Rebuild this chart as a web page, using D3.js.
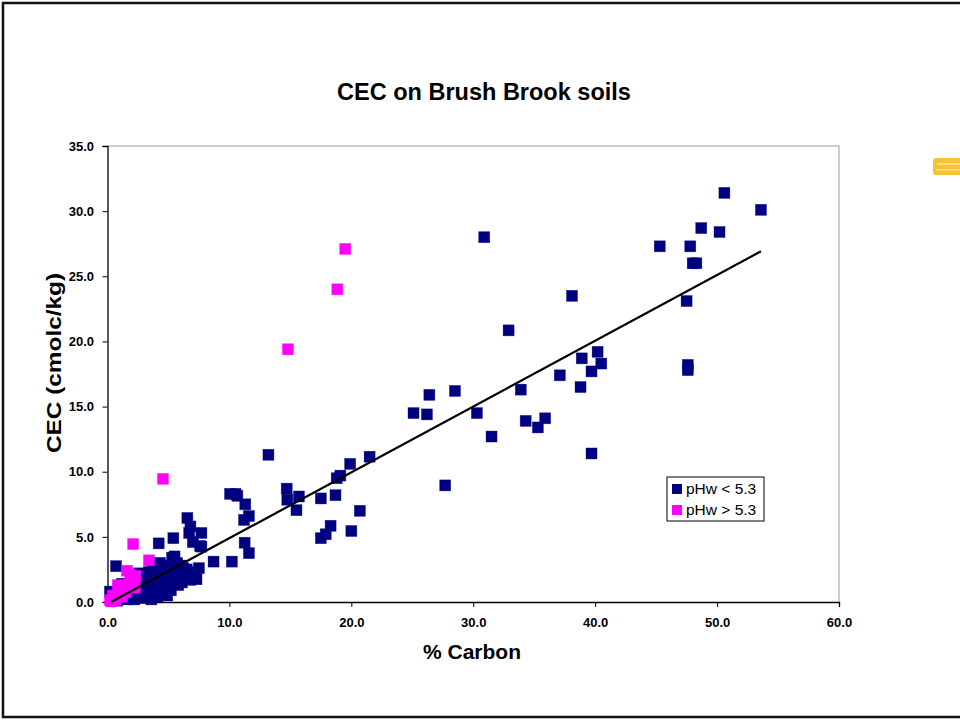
<!DOCTYPE html>
<html lang="en">

<head>
    <meta charset="UTF-8">
    <title>CEC on Brush Brook soils</title>
    <style>
        body {
            margin: 0;
            overflow: hidden;
            background: #fff;
        }
        text {
            font-family: "Liberation Sans", Arial, sans-serif;
        }
    </style>
</head>

<body>
    <div id="container"></div>

    <script type="text/javascript" src="https://d3js.org/d3.v7.min.js"></script>
    <script type="text/javascript">
        // pHw < 5.3 (navy)
        var lowX = [50.6, 53.6, 48.7, 50.2, 45.3, 47.8, 48.0, 48.3, 30.9, 38.1, 47.5, 32.9, 40.2, 38.9, 40.5, 39.7,
            37.1, 47.6, 47.6, 38.8, 33.9, 28.5, 26.4, 25.1, 26.2, 30.3, 34.3, 35.9, 35.3, 31.5, 39.7, 27.7,
            13.2, 21.5, 19.9, 19.1, 18.8, 18.7, 17.5, 20.7, 18.3, 17.9, 17.5, 20.0, 14.7, 14.75, 15.7, 15.5,
            10.5, 10.05, 10.65, 11.3, 11.6, 11.2, 11.25, 11.6, 7.7, 7.7, 10.2, 8.7, 6.55, 6.8, 6.7, 7.0,
            5.4, 4.2, 7.6, 5.5, 0.7, 7.5, 7.3, 6.8,
            0.2, 0.4, 0.6, 0.9, 1.1, 1.2, 1.5, 1.8, 2.0, 2.3, 2.5, 2.8, 3.0, 3.1, 3.3, 3.4, 3.5, 3.7, 3.8,
            4.0, 4.1, 4.2, 4.4, 4.5, 4.6, 4.8, 5.0, 5.1, 5.2, 5.4, 5.6, 5.7, 5.9, 6.1, 6.2, 6.4, 6.6, 6.8,
            7.0, 7.2, 3.0, 2.6, 4.3, 5.3, 6.0, 1.6, 2.2, 0.8, 3.6, 4.9, 6.5, 3.7, 2.9, 4.0, 5.8];
        var lowY = [31.4, 30.1, 28.7, 28.4, 27.3, 27.3, 26.0, 26.0, 28.0, 23.5, 23.1, 20.85, 19.2, 18.7, 18.3, 17.7,
            17.4, 18.2, 17.8, 16.5, 16.3, 16.2, 15.9, 14.5, 14.4, 14.5, 13.9, 14.1, 13.4, 12.7, 11.4, 8.95,
            11.3, 11.15, 10.6, 9.7, 9.5, 8.2, 7.95, 7.0, 5.85, 5.2, 4.9, 5.45, 8.7, 7.85, 8.1, 7.05,
            8.3, 8.3, 8.15, 7.5, 6.6, 6.3, 4.55, 3.75, 5.3, 4.25, 3.1, 3.1, 6.45, 5.8, 5.3, 4.6,
            4.9, 4.5, 4.3, 3.5, 2.75, 2.6, 1.75, 1.85,
            0.8, 0.3, 0.6, 1.0, 0.4, 1.4, 0.9, 0.3, 1.2, 0.6, 1.5, 0.9, 0.3, 1.8, 1.2, 2.3, 0.6, 1.6, 2.5,
            1.0, 0.4, 2.0, 1.4, 2.6, 0.8, 1.9, 1.2, 2.8, 0.9, 2.2, 1.6, 3.0, 2.0, 1.5, 2.6, 1.9, 2.3, 1.7,
            2.0, 1.8, 2.0, 2.2, 3.0, 3.4, 2.8, 0.2, 0.2, 0.1, 0.2, 0.5, 2.5, 2.8, 1.0, 1.7, 1.3];

        // pHw > 5.3 (magenta)
        var highX = [19.5, 18.85, 14.8, 4.55, 2.1, 3.4, 1.6, 1.85, 2.1, 1.7, 1.0, 0.45, 0.2, 0.7, 1.2, 2.25, 1.5, 0.85, 2.3, 0.3];
        var highY = [27.1, 24.0, 19.4, 9.45, 4.45, 3.2, 2.4, 2.1, 1.7, 1.3, 0.9, 0.5, 0.15, 0.15, 0.4, 1.1, 0.75, 1.3, 2.0, 0.05];

        // linear trend line over the navy series
        var trendX = [0.3, 53.6];
        var trendSlope = 0.505;
        var trendIntercept = -0.15;

        var xTicks = [0, 10, 20, 30, 40, 50, 60];
        var yTicks = [0, 5, 10, 15, 20, 25, 30, 35];
        var seriesNames = ["pHw < 5.3", "pHw > 5.3"];
        var seriesColors = ["#000080", "#FF00FF"];

        var width = 960, height = 721;
        var plot = { left: 107.5, right: 839, top: 146, bottom: 602 };

        var svg = d3.select("#container")
            .append("svg")
            .attr("width", width)
            .attr("height", height);

        // outer frame
        svg.append("rect")
            .attr("x", 3)
            .attr("y", 3)
            .attr("width", 1000)
            .attr("height", 714)
            .attr("fill", "none")
            .attr("stroke", "#111")
            .attr("stroke-width", 2.5);

        // yellow highlight mark at right edge
        svg.append("rect")
            .attr("x", 933)
            .attr("y", 158)
            .attr("width", 40)
            .attr("height", 17)
            .attr("rx", 3)
            .attr("fill", "#F6C23A");
        svg.append("rect")
            .attr("x", 937)
            .attr("y", 163)
            .attr("width", 30)
            .attr("height", 2)
            .attr("fill", "#FBE08A");
        svg.append("rect")
            .attr("x", 936)
            .attr("y", 169)
            .attr("width", 30)
            .attr("height", 1.5)
            .attr("fill", "#FBE08A");

        var x = d3.scaleLinear().domain([0, 60]).range([plot.left, plot.right]);
        var y = d3.scaleLinear().domain([0, 35]).range([plot.bottom, plot.top]);

        // plot frame (top and right in grey)
        svg.append("path")
            .attr("d", "M" + plot.left + "," + plot.top + "H" + plot.right + "V" + plot.bottom)
            .attr("fill", "none")
            .attr("stroke", "#999")
            .attr("stroke-width", 1);

        var xAxis = svg.append("g")
            .attr("transform", "translate(0," + plot.bottom + ")")
            .call(d3.axisBottom(x).tickValues(xTicks).tickSize(5).tickPadding(11).tickFormat(d3.format(".1f")));
        var yAxis = svg.append("g")
            .attr("transform", "translate(" + plot.left + ",0)")
            .call(d3.axisLeft(y).tickValues(yTicks).tickSize(5).tickPadding(8.5).tickFormat(d3.format(".1f")));

        [xAxis, yAxis].forEach(function (a) {
            a.select(".domain").attr("stroke", "#000").attr("stroke-width", 1.3);
            a.selectAll(".tick line").attr("stroke", "#000");
            a.selectAll(".tick text")
                .attr("fill", "#000")
                .style("font-size", "13px")
                .style("font-weight", "bold")
                .style("font-family", "'Liberation Sans', Arial, sans-serif");
        });

        var lowData = lowX.map(function (d, i) { return [d, lowY[i]]; });
        var highData = highX.map(function (d, i) { return [d, highY[i]]; });

        var size = 11;
        function drawSeries(data, color) {
            svg.append("g")
                .selectAll("rect")
                .data(data)
                .enter()
                .append("rect")
                .attr("x", function (d) { return x(d[0]) - size / 2; })
                .attr("y", function (d) { return y(d[1]) - size / 2; })
                .attr("width", size)
                .attr("height", size)
                .attr("fill", color)
                .attr("stroke", color)
                .attr("stroke-opacity", 0.6)
                .attr("stroke-width", 0.6);
        }
        drawSeries(lowData, seriesColors[0]);
        drawSeries(highData, seriesColors[1]);

        // trend line
        var line = d3.line()
            .x(function (d) { return x(d); })
            .y(function (d) { return y(trendIntercept + trendSlope * d); });
        svg.append("path")
            .datum(trendX)
            .attr("d", line)
            .attr("fill", "none")
            .attr("stroke", "#000")
            .attr("stroke-width", 2.2);

        // titles
        svg.append("text")
            .attr("x", 484)
            .attr("y", 100)
            .attr("text-anchor", "middle")
            .style("font-size", "23.5px")
            .style("font-weight", "bold")
            .text("CEC on Brush Brook soils");

        svg.append("text")
            .attr("x", 472)
            .attr("y", 659)
            .attr("text-anchor", "middle")
            .style("font-size", "21px")
            .style("font-weight", "bold")
            .text("% Carbon");

        svg.append("text")
            .attr("transform", "translate(61,363) rotate(-90)")
            .attr("text-anchor", "middle")
            .attr("textLength", 180)
            .attr("lengthAdjust", "spacingAndGlyphs")
            .style("font-size", "21px")
            .style("font-weight", "bold")
            .text("CEC (cmolc/kg)");

        // legend
        var legend = svg.append("g").attr("transform", "translate(667,477)");
        legend.append("rect")
            .attr("width", 97)
            .attr("height", 44)
            .attr("fill", "#fff")
            .attr("stroke", "#000")
            .attr("stroke-width", 1);
        seriesNames.forEach(function (name, i) {
            legend.append("rect")
                .attr("x", 5)
                .attr("y", 7 + i * 21)
                .attr("width", 10)
                .attr("height", 10)
                .attr("fill", seriesColors[i]);
            legend.append("text")
                .attr("x", 19)
                .attr("y", 17 + i * 21)
                .style("font-size", "15.5px")
                .text(name);
        });
    </script>
</body>

</html>
